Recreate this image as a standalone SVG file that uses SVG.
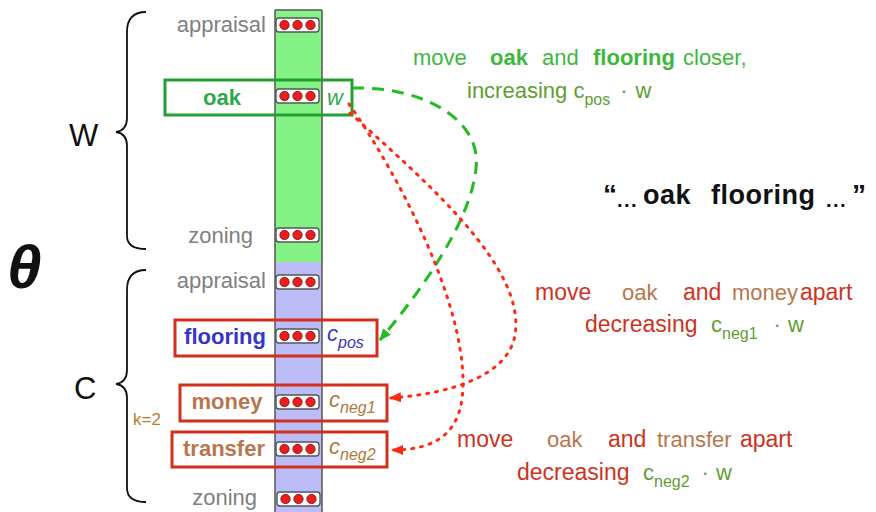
<svg xmlns="http://www.w3.org/2000/svg" xmlns:xlink="http://www.w3.org/1999/xlink" width="876" height="512" viewBox="0 0 876 512">
  <style>
    text { font-family: "Liberation Sans", Arial, sans-serif; }
    .lbl { font-size: 22px; fill: #808080; text-anchor: end; }
    .word { font-size: 22px; font-weight: bold; text-anchor: middle; }
    .vecbox { fill: #ffffff; stroke: #555555; stroke-width: 1.4; }
    .dot { fill: #ee1c1c; stroke: #8a1a1a; stroke-width: 1; }
    .gbox { fill: none; stroke: #22a030; stroke-width: 3; }
    .rbox { fill: none; stroke: #d0301c; stroke-width: 3; }
    .brace { fill: none; stroke: #111111; stroke-width: 1.8; }
    .pos { fill: none; stroke: #22bb22; stroke-width: 3; stroke-dasharray: 12 8; }
    .neg { fill: none; stroke: #ff2a14; stroke-width: 3; stroke-dasharray: 2 7; stroke-linecap: round; }
    .gtxt { font-size: 22px; fill: #3cb83c; }
    .otxt { font-size: 22px; fill: #5e9e34; }
    .rtxt { font-size: 23px; fill: #cc3322; }
    .btxt { font-size: 22px; fill: #b8764e; }
    .sub { font-size: 16px; }
    .phr { font-weight: bold; fill: #111111; }
  </style>
  <defs>
    <!-- embedding vector: three red units in a rounded box -->
    <g id="vec">
      <rect class="vecbox" x="0" y="0" width="43" height="14" rx="3"/>
      <circle class="dot" cx="8.5" cy="7" r="4.6"/>
      <circle class="dot" cx="21.5" cy="7" r="4.6"/>
      <circle class="dot" cx="34.5" cy="7" r="4.6"/>
    </g>
    <marker id="ahG" viewBox="0 0 12 10" refX="11" refY="5" markerWidth="12" markerHeight="10" markerUnits="userSpaceOnUse" orient="auto">
      <path d="M0,0 L12,5 L0,10 Z" fill="#22bb22"/>
    </marker>
    <marker id="ahR" viewBox="0 0 12 10" refX="11" refY="5" markerWidth="12" markerHeight="10" markerUnits="userSpaceOnUse" orient="auto">
      <path d="M0,0 L12,5 L0,10 Z" fill="#ff2a14"/>
    </marker>
  </defs>

  <rect x="0" y="0" width="876" height="512" fill="#ffffff"/>

  <!-- parameter column: W part (green) and C part (blue) -->
  <g id="column">
    <rect x="275" y="10" width="47" height="252" fill="#84f284"/>
    <rect x="275" y="262" width="47" height="260" fill="#bcbcf8"/>
    <line x1="275" y1="10" x2="275" y2="512" stroke="#555555" stroke-width="1.5"/>
    <line x1="322" y1="10" x2="322" y2="512" stroke="#555555" stroke-width="1.5"/>
    <line x1="275" y1="10" x2="322" y2="10" stroke="#555555" stroke-width="1.5"/>
  </g>

  <!-- braces and group labels -->
  <g id="braces">
    <path class="brace" d="M146,12 C132,12 127,20 127,32 L127,118 C127,126 123,131 116,132 C123,133 127,138 127,146 L127,236 C127,244 132,249 146,249"/>
    <path class="brace" d="M146,270 C132,270 127,278 127,290 L127,370 C127,378 123,383 116,384 C123,385 127,390 127,398 L127,488 C127,496 132,502 146,502"/>
    <text x="69" y="146" font-size="31" fill="#111111">W</text>
    <text x="74" y="399" font-size="31" fill="#111111">C</text>
    <text x="7" y="288" font-family="'Liberation Serif', serif" font-size="62" font-weight="bold" font-style="italic" fill="#111111">θ</text>
    <text x="133" y="425" font-size="17" fill="#c07a30">k=2</text>
  </g>

  <!-- W rows -->
  <g id="w-appraisal">
    <text class="lbl" x="266" y="32">appraisal</text>
    <use xlink:href="#vec" x="276" y="18"/>
  </g>
  <g id="w-oak">
    <use xlink:href="#vec" x="276" y="89"/>
    <rect class="gbox" x="165" y="80" width="187" height="35"/>
    <text class="word" x="222" y="105" fill="#2ea84a">oak</text>
    <text x="327" y="105" font-size="22" font-style="italic" fill="#2ea84a">w</text>
  </g>
  <g id="w-zoning">
    <text class="lbl" x="253" y="243">zoning</text>
    <use xlink:href="#vec" x="276" y="228"/>
  </g>

  <!-- C rows -->
  <g id="c-appraisal">
    <text class="lbl" x="266" y="288">appraisal</text>
    <use xlink:href="#vec" x="276" y="275"/>
  </g>
  <g id="c-flooring">
    <use xlink:href="#vec" x="276" y="329"/>
    <rect class="rbox" x="175" y="320" width="202" height="36"/>
    <text class="word" x="225" y="344" fill="#3535c8">flooring</text>
    <text x="327" y="341" font-size="22" font-style="italic" fill="#3535c8">c<tspan class="sub" dy="7">pos</tspan></text>
  </g>
  <g id="c-money">
    <use xlink:href="#vec" x="276" y="395"/>
    <rect class="rbox" x="180" y="385" width="207" height="36"/>
    <text class="word" x="227" y="409" fill="#b8764e">money</text>
    <text x="329" y="407" font-size="22" font-style="italic" fill="#b07838">c<tspan class="sub" dy="6">neg1</tspan></text>
  </g>
  <g id="c-transfer">
    <use xlink:href="#vec" x="276" y="442"/>
    <rect class="rbox" x="172" y="432" width="215" height="35"/>
    <text class="word" x="224" y="456" fill="#b8764e">transfer</text>
    <text x="329" y="454" font-size="22" font-style="italic" fill="#b07838">c<tspan class="sub" dy="6">neg2</tspan></text>
  </g>
  <g id="c-zoning">
    <text class="lbl" x="257" y="505">zoning</text>
    <use xlink:href="#vec" x="277" y="492"/>
  </g>

  <!-- connectors -->
  <g id="connectors">
    <path class="pos" d="M352,88 C420,86 482,118 476,168 C471,222 420,292 380,340" marker-end="url(#ahG)"/>
    <path class="neg" d="M350,113 C430,185 526,268 515,335 C508,376 450,394 390,398" marker-end="url(#ahR)"/>
    <path class="neg" d="M349,104 C402,180 462,300 463,380 C464,430 440,450 392,450" marker-end="url(#ahR)"/>
  </g>

  <!-- annotations -->
  <g id="note-pos">
    <text class="gtxt" x="413" y="65">move</text>
    <text class="gtxt" x="490" y="65" font-weight="bold" fill="#2ea84a">oak</text>
    <text class="gtxt" x="542" y="65">and</text>
    <text class="gtxt" x="593" y="65" font-weight="bold" fill="#2ea84a">flooring</text>
    <text class="gtxt" x="683" y="65">closer,</text>
    <text class="otxt" x="467" y="98">increasing c<tspan class="sub" dy="7">pos</tspan><tspan dy="-7" dx="10">·</tspan><tspan dx="8">w</tspan></text>
  </g>
  <g id="phrase">
    <text class="phr" x="603" y="204" font-size="28">“</text>
    <text class="phr" x="617" y="207" font-size="20" letter-spacing="1.5">...</text>
    <text class="phr" x="643" y="204" font-size="27" letter-spacing="0.5">oak</text>
    <text class="phr" x="711" y="204" font-size="27" letter-spacing="0.5">flooring</text>
    <text class="phr" x="826" y="207" font-size="20" letter-spacing="1.5">...</text>
    <text class="phr" x="852" y="204" font-size="28">”</text>
  </g>
  <g id="note-neg1">
    <text class="rtxt" x="535" y="300">move</text>
    <text class="btxt" x="622" y="300">oak</text>
    <text class="rtxt" x="683" y="300">and</text>
    <text class="btxt" x="732" y="300">money</text>
    <text class="rtxt" x="800" y="300">apart</text>
    <text class="rtxt" x="585" y="332">decreasing</text>
    <text class="otxt" x="711" y="332">c<tspan class="sub" dy="7">neg1</tspan><tspan dy="-7" dx="16">·</tspan><tspan dx="7">w</tspan></text>
  </g>
  <g id="note-neg2">
    <text class="rtxt" x="457" y="447">move</text>
    <text class="btxt" x="547" y="447">oak</text>
    <text class="rtxt" x="608" y="447">and</text>
    <text class="btxt" x="657" y="447">transfer</text>
    <text class="rtxt" x="740" y="447">apart</text>
    <text class="rtxt" x="517" y="480">decreasing</text>
    <text class="otxt" x="643" y="480">c<tspan class="sub" dy="7">neg2</tspan><tspan dy="-7" dx="12">·</tspan><tspan dx="7">w</tspan></text>
  </g>
</svg>
